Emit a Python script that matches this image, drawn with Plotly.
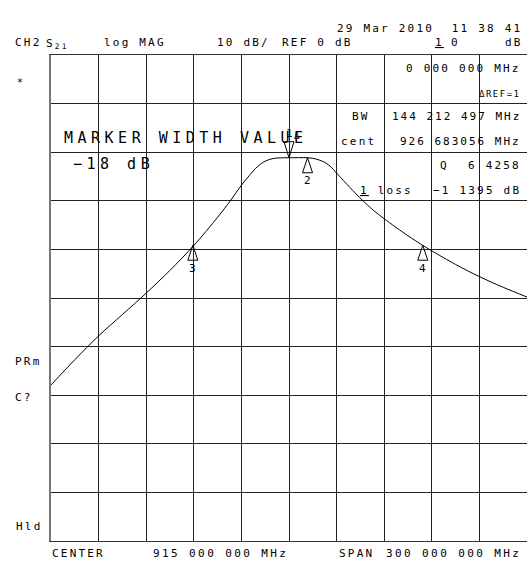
import plotly.graph_objects as go

# ---- data ----
freq_mhz = [765, 780, 795, 810, 825, 840, 855, 870, 878, 885, 890, 895, 900, 905, 910,
            915, 921, 927, 932, 937, 941, 945, 953.5, 961, 968, 975, 990, 999, 1005, 1020,
            1035, 1050, 1065]
s21_db = [-47.9, -42.7, -37.8, -33.4, -29.0, -24.3, -19.2, -13.4, -10.0, -6.8, -4.8, -3.0,
          -1.85, -1.3, -1.16, -1.14, -1.12, -1.14, -1.4, -2.0, -2.9, -4.3, -7.3, -9.8, -11.9,
          -13.7, -17.2, -19.1, -20.3, -23.1, -25.6, -27.8, -29.8]

marker_ids = ["1", "2", "3", "4"]
marker_freq = [915.0, 926.683056, 854.4, 999.3]
marker_db = [-1.14, -1.14, -19.14, -19.14]

center_mhz = 915
span_mhz = 300
ref_db = 0
scale_db = 10

# ---- geometry ----
W, H = 530, 563
L, R, T, B = 51, 3, 55, 22
PW, PH = W - L - R, H - T - B
FONT = "DejaVu Sans Mono"


def px(x):
    return (x - L) / PW


def py(y):
    return (H - B - y) / PH


fig = go.Figure()
fig.add_trace(go.Scatter(x=freq_mhz, y=s21_db, mode="lines",
                         line=dict(color="black", width=1, shape="spline", smoothing=0.9),
                         hoverinfo="skip"))

x0 = center_mhz - span_mhz / 2
x1 = center_mhz + span_mhz / 2
y1 = ref_db + 2 * scale_db
y0 = y1 - 10 * scale_db

shapes = []
annotations = []

# markers
for mid, f, d in zip(marker_ids, marker_freq, marker_db):
    if mid == "1":
        shapes.append(dict(type="path", xref="x", yref="y", xsizemode="pixel", ysizemode="pixel",
                           xanchor=f, yanchor=d, path="M0,0 L-5,16 L5,16 Z",
                           line=dict(color="black", width=1)))
        annotations.append(dict(x=f, y=d, xref="x", yref="y", yshift=24, text="1",
                                showarrow=False, font=dict(family=FONT, size=11, color="black")))
        annotations.append(dict(x=f, y=d, xref="x", yref="y", yshift=22, xshift=8, text="Δ",
                                showarrow=False, font=dict(family=FONT, size=9, color="black")))
    else:
        shapes.append(dict(type="path", xref="x", yref="y", xsizemode="pixel", ysizemode="pixel",
                           xanchor=f, yanchor=d, path="M0,0 L-5,-15 L5,-15 Z",
                           line=dict(color="black", width=1)))
        annotations.append(dict(x=f, y=d, xref="x", yref="y", yshift=-23, text=mid,
                                showarrow=False, font=dict(family=FONT, size=11, color="black")))

# reference position indicator
shapes.append(dict(type="path", xref="x", yref="y", xsizemode="pixel", ysizemode="pixel",
                   xanchor=x1, yanchor=ref_db, path="M0,0 L3,3 L3,-3 Z",
                   line=dict(color="black", width=1)))


def txt(x, y, s, anchor="left", size=11, ls=2.2):
    annotations.append(dict(x=px(x), y=py(y), xref="paper", yref="paper", xanchor=anchor,
                            yanchor="middle", showarrow=False,
                            text=f"<span style='letter-spacing:{ls}px'>{s}</span>",
                            font=dict(family=FONT, size=size, color="black")))


txt(524, 29, "29 Mar 2010  11 38 41", "right")
txt(13, 43, "CH2")
txt(44, 44, "S<sub>21</sub>")
txt(102, 43, "log MAG")
txt(215, 43, "10 dB/")
txt(280, 43, "REF 0 dB")
txt(433, 43, "<u>1</u>")
txt(449, 43, "0")
txt(525, 43, "dB", "right")
txt(15, 82, "*", size=10)
txt(523, 68, "0 000 000 MHz", "right")
txt(523, 94, "ΔREF=1", "right", size=9, ls=1.5)
txt(350, 117, "BW")
txt(523, 117, "144 212 497 MHz", "right", ls=2.0)
txt(62, 138, "MARKER WIDTH VALUE", size=15, ls=4.5)
txt(339, 141, "cent")
txt(523, 141, "926 683056 MHz", "right", ls=2.0)
txt(71, 164, "−18 dB", size=15, ls=4.5)
txt(438, 165, "Q")
txt(523, 165, "6 4258", "right")
txt(358, 190, "<u>1</u> loss")
txt(523, 190, "−1 1395 dB", "right")
txt(13, 361, "PRm")
txt(13, 397, "C?")
txt(14, 526, "Hld")
txt(50, 553, "CENTER")
txt(151, 553, "915 000 000 MHz", ls=2.4)
txt(337, 553, "SPAN")
txt(523, 553, "300 000 000 MHz", "right", ls=2.4)

fig.update_layout(
    width=W, height=H, margin=dict(l=L, r=R, t=T, b=B),
    paper_bgcolor="white", plot_bgcolor="white", showlegend=False,
    shapes=shapes, annotations=annotations,
    xaxis=dict(range=[x0, x1], tick0=x0, dtick=span_mhz / 10, showticklabels=False,
               ticks="", showgrid=True, gridcolor="#222", gridwidth=1, zeroline=False,
               showline=True, linecolor="#333", linewidth=1, mirror=True, fixedrange=True),
    yaxis=dict(range=[y0, y1], tick0=y0, dtick=scale_db, showticklabels=False, ticks="",
               showgrid=True, gridcolor="#222", gridwidth=1, zeroline=False,
               showline=True, linecolor="#777", linewidth=1.5, fixedrange=True),
)

fig.write_html("out.html", config={"displayModeBar": False},
               post_script="document.body.style.margin='0';document.body.style.overflow='hidden';")
